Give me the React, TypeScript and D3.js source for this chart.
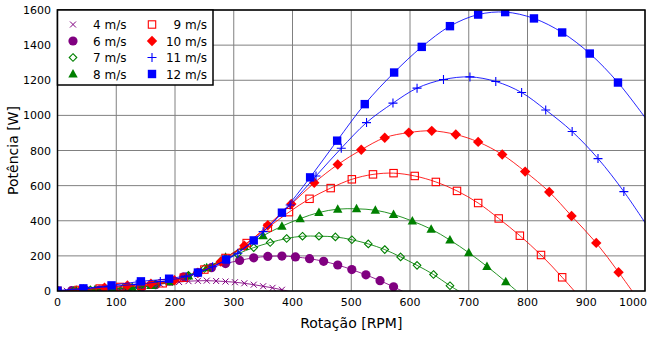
import React from "react";
import * as d3 from "d3";

const xTicks = [0, 100, 200, 300, 400, 500, 600, 700, 800, 900, 1000];
const yTicks = [0, 200, 400, 600, 800, 1000, 1200, 1400, 1600];

const rpm4 = [0, 16, 32, 48, 64, 80, 95, 111, 127, 143, 159, 175, 191, 207, 223, 239, 254, 270, 286, 302, 318, 334, 350, 366, 382, 397];
const pow4 = [0, 1, 1, 2, 3, 4, 7, 11, 17, 24, 32, 39, 46, 51, 56, 58, 59, 57, 54, 50, 44, 36, 27, 18, 7, -5];

const rpm6 = [0, 24, 48, 72, 95, 119, 143, 167, 191, 215, 239, 262, 286, 310, 334, 358, 382, 405, 429, 453, 477, 501, 525, 549, 572, 596];
const pow6 = [0, 2, 4, 7, 9, 13, 22, 36, 56, 81, 104, 133, 156, 174, 189, 197, 199, 194, 184, 169, 148, 122, 92, 59, 24, -16];

const rpm7 = [0, 28, 56, 83, 111, 139, 167, 195, 223, 250, 278, 306, 334, 362, 390, 417, 445, 473, 501, 529, 557, 584, 612, 640, 668, 696];
const pow7 = [0, 3, 6, 11, 14, 21, 36, 57, 89, 128, 170, 211, 247, 276, 299, 312, 312, 308, 292, 268, 236, 194, 146, 94, 30, -26];

const rpm8 = [0, 32, 64, 95, 127, 159, 191, 223, 254, 286, 318, 350, 382, 413, 445, 477, 509, 541, 572, 604, 636, 668, 700, 731, 763, 795];
const pow8 = [1, 4, 9, 16, 21, 31, 53, 85, 132, 192, 254, 315, 369, 412, 447, 466, 468, 460, 436, 398, 352, 290, 218, 140, 53, -39];

const rpm9 = [0, 36, 72, 107, 143, 179, 215, 250, 286, 322, 358, 394, 429, 465, 501, 537, 572, 608, 644, 680, 716, 751, 787, 823, 859, 894];
const pow9 = [1, 6, 14, 23, 30, 44, 76, 122, 188, 273, 361, 449, 525, 586, 636, 664, 671, 655, 621, 570, 501, 413, 315, 205, 78, -55];

const rpm10 = [0, 40, 80, 119, 159, 199, 239, 278, 318, 358, 398, 437, 477, 517, 557, 598, 637, 678, 716, 757, 796, 837, 875, 917, 955, 994];
const pow10 = [1, 9, 19, 32, 41, 61, 104, 167, 258, 374, 495, 616, 720, 804, 873, 902, 912, 891, 849, 777, 680, 564, 427, 274, 107, -75];

const rpm11 = [0, 44, 87, 134, 175, 219, 264, 307, 350, 396, 440, 483, 526, 571, 612, 657, 702, 746, 790, 831, 876, 920, 964, 1005];
const pow11 = [2, 12, 25, 38, 54, 81, 138, 215, 338, 490, 655, 813, 959, 1070, 1155, 1204, 1219, 1193, 1130, 1031, 908, 754, 566, 364];

const rpm12 = [0, 44, 92, 142, 190, 239, 287, 334, 382, 430, 476, 523, 573, 620, 668, 716, 762, 811, 859, 906, 954, 1002];
const pow12 = [2, 15, 32, 55, 70, 105, 179, 288, 446, 647, 856, 1064, 1244, 1390, 1508, 1574, 1588, 1552, 1472, 1352, 1187, 979];

const seriesNames = ["4 m/s", "6 m/s", "7 m/s", "8 m/s", "9 m/s", "10 m/s", "11 m/s", "12 m/s"];

type Series = { name: string; rpm: number[]; pow: number[]; color: string; marker: string };

const series: Series[] = [
  { name: seriesNames[0], rpm: rpm4, pow: pow4, color: "#800080", marker: "x" },
  { name: seriesNames[1], rpm: rpm6, pow: pow6, color: "#800080", marker: "circle" },
  { name: seriesNames[2], rpm: rpm7, pow: pow7, color: "#008000", marker: "diamondOpen" },
  { name: seriesNames[3], rpm: rpm8, pow: pow8, color: "#008000", marker: "triangle" },
  { name: seriesNames[4], rpm: rpm9, pow: pow9, color: "#ff0000", marker: "squareOpen" },
  { name: seriesNames[5], rpm: rpm10, pow: pow10, color: "#ff0000", marker: "diamond" },
  { name: seriesNames[6], rpm: rpm11, pow: pow11, color: "#0000ff", marker: "plus" },
  { name: seriesNames[7], rpm: rpm12, pow: pow12, color: "#0000ff", marker: "square" },
];

const W = 652;
const H = 337;
const L = 57.5, R = 645, T = 10, B = 291;

const x = d3.scaleLinear().domain([0, 1000]).range([L, R]);
const y = d3.scaleLinear().domain([0, 1600]).range([B, T]);

function Marker({ type, cx, cy, color }: { type: string; cx: number; cy: number; color: string }) {
  switch (type) {
    case "x":
      return (
        <path d={`M${cx - 3},${cy - 3}L${cx + 3},${cy + 3}M${cx - 3},${cy + 3}L${cx + 3},${cy - 3}`} stroke={color} strokeWidth={1} fill="none" />
      );
    case "circle":
      return <circle cx={cx} cy={cy} r={4.6} fill={color} />;
    case "diamondOpen":
      return (
        <path d={`M${cx},${cy - 3.8}L${cx + 3.8},${cy}L${cx},${cy + 3.8}L${cx - 3.8},${cy}Z`} stroke={color} strokeWidth={1.1} fill="none" />
      );
    case "triangle":
      return <path d={`M${cx},${cy - 5}L${cx + 4.7},${cy + 3.5}L${cx - 4.7},${cy + 3.5}Z`} fill={color} />;
    case "squareOpen":
      return <rect x={cx - 3.7} y={cy - 3.7} width={7.4} height={7.4} stroke={color} strokeWidth={1.1} fill="none" />;
    case "diamond":
      return <path d={`M${cx},${cy - 5.2}L${cx + 5.2},${cy}L${cx},${cy + 5.2}L${cx - 5.2},${cy}Z`} fill={color} />;
    case "plus":
      return (
        <path d={`M${cx - 4.5},${cy}L${cx + 4.5},${cy}M${cx},${cy - 4.5}L${cx},${cy + 4.5}`} stroke={color} strokeWidth={1.1} fill="none" />
      );
    case "square":
      return <rect x={cx - 4.2} y={cy - 4.2} width={8.4} height={8.4} fill={color} />;
  }
  return null;
}

export default function App() {
  const line = d3
    .line<[number, number]>()
    .x((d) => x(d[0]))
    .y((d) => y(d[1]))
    .curve(d3.curveCatmullRom.alpha(0.5));

  const font = "DejaVu Sans, Verdana, sans-serif";

  const legendCol1 = series.slice(0, 4);
  const legendCol2 = series.slice(4, 8);
  const rowY = [24.5, 41, 57.5, 74];

  return (
    <svg width={W} height={H} style={{ position: "absolute", left: 0, top: 0, background: "#fff" }} fontFamily={font}>
      <defs>
        <clipPath id="plotClip">
          <rect x={L} y={T} width={R - L} height={B - T} />
        </clipPath>
      </defs>
      <rect x={0} y={0} width={W} height={H} fill="#fff" />
      {/* grid */}
      {xTicks.map((t) => (
        <line key={"gx" + t} x1={x(t)} x2={x(t)} y1={T} y2={B} stroke="#808080" strokeWidth={1} />
      ))}
      {yTicks.map((t) => (
        <line key={"gy" + t} x1={L} x2={R} y1={y(t)} y2={y(t)} stroke="#808080" strokeWidth={1} />
      ))}
      {/* series */}
      <g clipPath="url(#plotClip)">
        {series.map((s) => {
          const pts: [number, number][] = s.rpm.map((r, i) => [r, s.pow[i]]);
          return (
            <g key={s.name}>
              <path d={line(pts) || ""} fill="none" stroke={s.color} strokeWidth={1} strokeOpacity={0.85} />
              {pts
                .filter((p) => p[0] <= 1000 && p[1] >= 0)
                .map((p, i) => (
                  <Marker key={i} type={s.marker} cx={x(p[0])} cy={y(p[1])} color={s.color} />
                ))}
            </g>
          );
        })}
      </g>
      {/* frame */}
      <rect x={L} y={T} width={R - L} height={B - T} fill="none" stroke="#000" strokeWidth={1.5} />
      {/* tick labels */}
      {xTicks.map((t, i) => {
        const last = i === xTicks.length - 1;
        return (
          <text key={"tx" + t} x={last ? 647 : x(t)} y={306} fontSize={11} textAnchor={last ? "end" : "middle"} fill="#000">
            {t}
          </text>
        );
      })}
      {yTicks.map((t) => (
        <text key={"ty" + t} x={51} y={y(t) + 4} fontSize={11} textAnchor="end" fill="#000">
          {t}
        </text>
      ))}
      <text x={(L + R) / 2} y={328} fontSize={14} textAnchor="middle" fill="#000">
        Rotação [RPM]
      </text>
      <text transform={`translate(18,${(T + B) / 2}) rotate(-90)`} fontSize={14} textAnchor="middle" fill="#000">
        Potência [W]
      </text>
      {/* legend */}
      <rect x={L} y={T} width={213 - L} height={85 - T} fill="#fff" stroke="#000" strokeWidth={1.5} />
      {legendCol1.map((s, i) => (
        <g key={"l1" + s.name}>
          <Marker type={s.marker} cx={73} cy={rowY[i]} color={s.color} />
          <text x={93} y={rowY[i] + 4.5} fontSize={12} fill="#000">
            {s.name}
          </text>
        </g>
      ))}
      {legendCol2.map((s, i) => (
        <g key={"l2" + s.name}>
          <Marker type={s.marker} cx={152} cy={rowY[i]} color={s.color} />
          <text x={207} y={rowY[i] + 4.5} fontSize={12} textAnchor="end" fill="#000">
            {s.name}
          </text>
        </g>
      ))}
    </svg>
  );
}
